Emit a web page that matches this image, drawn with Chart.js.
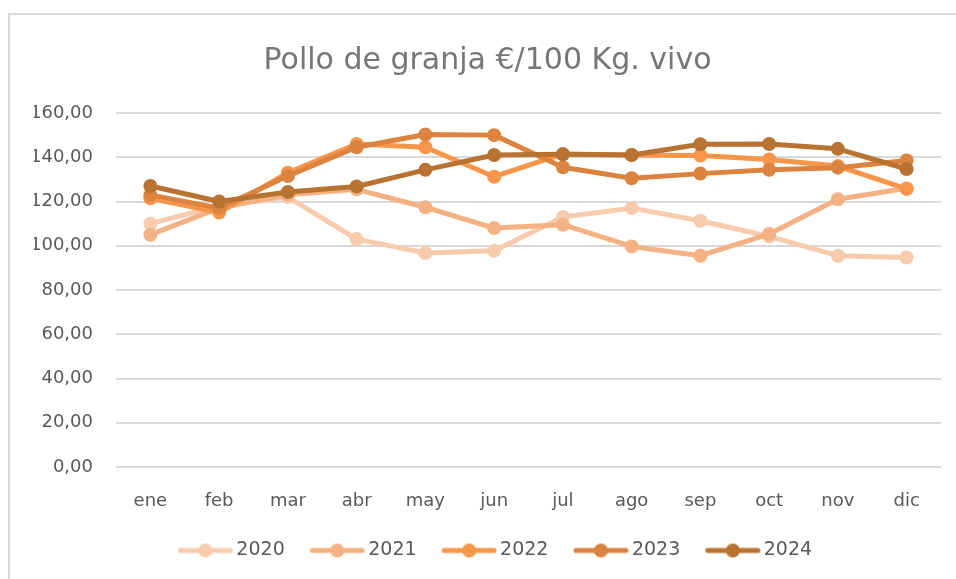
<!DOCTYPE html>
<html>
<head>
<meta charset="utf-8">
<script src="https://cdn.jsdelivr.net/npm/chart.js@4.4.1/dist/chart.umd.min.js"></script>
<style>
  html, body { margin: 0; padding: 0; background: #fff; }
  #wrap { position: relative; width: 956px; height: 579px; overflow: hidden; }
  #frame { position: absolute; left: 8px; top: 13px; width: 960px; height: 580px; border: 2px solid #d9d9d9; box-sizing: border-box; }
  #chart { position: absolute; left: 0; top: 0; }
</style>
</head>
<body>
<div id="wrap">
  <div id="frame"></div>
  <canvas id="chart" width="956" height="579"></canvas>
</div>
<script>
// Data
const months = ['ene', 'feb', 'mar', 'abr', 'may', 'jun', 'jul', 'ago', 'sep', 'oct', 'nov', 'dic'];
const years = ['2020', '2021', '2022', '2023', '2024'];
const v2020 = [110, 118, 122, 103, 96.7, 97.7, 113, 117, 111.3, 104.2, 95.5, 94.7];
const v2021 = [105, 117, 123, 125.5, 117.4, 108, 109.5, 99.7, 95.5, 105.3, 121, 126];
const v2022 = [121.5, 115, 133, 146, 144.5, 131.2, 141.5, 141, 140.8, 139, 136, 125.7];
const v2023 = [123, 117, 131.5, 144.5, 150.3, 150, 135.5, 130.5, 132.6, 134.3, 135.3, 138.5];
const v2024 = [127, 120, 124.3, 126.8, 134.3, 141, 141.3, 141, 145.9, 146, 143.8, 134.7];
const yTicks = [0, 20, 40, 60, 80, 100, 120, 140, 160];

const seriesValues = [v2020, v2021, v2022, v2023, v2024];
const colors = ['#F8CBAD', '#F4B183', '#F7964A', '#DC843F', '#B87231'];

const FONT = "'DejaVu Sans', sans-serif";

// Legend marker: line with a dot, transparent on the left so the text sits close
function legendMarker(color) {
  const c = document.createElement('canvas');
  c.width = 77;
  c.height = 16;
  const g = c.getContext('2d');
  g.strokeStyle = color;
  g.lineWidth = 5;
  g.lineCap = 'round';
  g.beginPath();
  g.moveTo(24, 8);
  g.lineTo(74, 8);
  g.stroke();
  g.fillStyle = color;
  g.beginPath();
  g.arc(49, 8, 7, 0, Math.PI * 2);
  g.fill();
  return c;
}

const datasets = years.map((y, i) => ({
  label: y,
  data: seriesValues[i],
  borderColor: colors[i],
  backgroundColor: colors[i],
  borderWidth: 5,
  borderJoinStyle: 'round',
  borderCapStyle: 'round',
  pointRadius: 7,
  pointBorderWidth: 0,
  pointBackgroundColor: colors[i],
  tension: 0,
  order: years.length - i,
  marker: legendMarker(colors[i])
}));

const ctx = document.getElementById('chart').getContext('2d');
const chart = new Chart(ctx, {
  type: 'line',
  data: { labels: months, datasets: datasets },
  options: {
    responsive: false,
    animation: false,
    layout: { padding: { left: 34, right: 15, top: 43, bottom: 9 } },
    plugins: {
      tooltip: { enabled: false },
      title: {
        display: true,
        text: 'Pollo de granja €/100 Kg. vivo',
        color: '#767676',
        font: { family: FONT, size: 30, weight: 'normal' },
        padding: { top: 0, bottom: 34 }
      },
      legend: {
        position: 'bottom',
        labels: {
          color: '#595959',
          font: { family: FONT, size: 19 },
          usePointStyle: true,
          pointStyleWidth: 64,
          padding: 10,
          generateLabels: (ch) => ch.data.datasets.map((ds, i) => ({
            text: ds.label,
            pointStyle: ds.marker,
            fillStyle: ds.borderColor,
            strokeStyle: ds.borderColor,
            lineWidth: 0,
            fontColor: '#595959',
            hidden: false,
            datasetIndex: i
          }))
        }
      }
    },
    scales: {
      x: {
        offset: true,
        grid: { display: false },
        border: { display: false },
        afterFit: (s) => { s.height = 64; },
        ticks: {
          color: '#595959',
          font: { family: FONT, size: 18 },
          padding: 16,
          maxRotation: 0
        }
      },
      y: {
        min: yTicks[0],
        max: yTicks[yTicks.length - 1],
        afterFit: (s) => { s.width = 82; },
        grid: { color: '#d9d9d9', lineWidth: 2, drawTicks: false },
        border: { display: false },
        ticks: {
          stepSize: yTicks[1] - yTicks[0],
          color: '#595959',
          font: { family: FONT, size: 18 },
          padding: 23,
          callback: (v) => Number(v).toFixed(2).replace('.', ',')
        }
      }
    }
  }
});
</script>
</body>
</html>
